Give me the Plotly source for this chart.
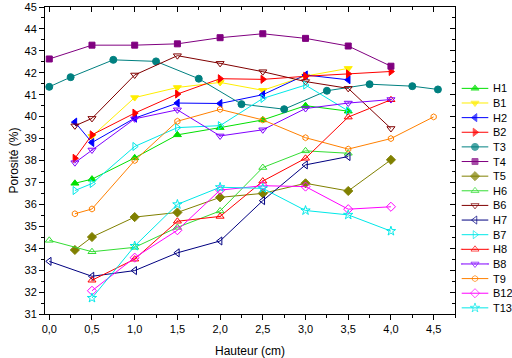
import plotly.graph_objects as go

# ---------------- data ----------------
names = ["H1", "B1", "H2", "B2", "T3", "T4", "T5", "H6", "B6", "H7", "B7", "H8", "B8", "T9", "B12", "T13"]

x_H1 = [0.3, 0.5, 1.0, 1.5, 2.0, 2.5, 3.0, 3.5]
y_H1 = [36.96, 37.15, 38.12, 39.17, 39.5, 39.85, 40.5, 40.25]
x_B1 = [0.5, 1.0, 1.5, 2.0, 2.5, 3.0, 3.5]
y_B1 = [39.1, 40.87, 41.33, 41.56, 41.2, 41.85, 42.2]
x_H2 = [0.3, 0.5, 1.0, 1.5, 2.0, 2.5, 3.0, 3.5]
y_H2 = [39.75, 38.82, 39.93, 40.62, 40.6, 41.0, 41.9, 41.68]
x_B2 = [0.3, 0.5, 1.0, 1.5, 2.0, 2.5, 3.0, 3.5, 4.0]
y_B2 = [38.1, 39.17, 40.16, 41.03, 41.73, 41.7, 41.84, 41.95, 42.06]
x_T3 = [0.0, 0.25, 0.75, 1.25, 1.75, 2.25, 2.75, 3.25, 3.75, 4.25, 4.55]
y_T3 = [41.36, 41.8, 42.59, 42.52, 41.73, 40.57, 40.34, 41.18, 41.48, 41.39, 41.24]
x_T4 = [0.0, 0.5, 1.0, 1.5, 2.0, 2.5, 3.0, 3.5, 4.0]
y_T4 = [42.63, 43.26, 43.26, 43.32, 43.6, 43.78, 43.57, 43.22, 42.3]
x_T5 = [0.3, 0.5, 1.0, 1.5, 2.0, 2.5, 3.0, 3.5, 4.0]
y_T5 = [33.92, 34.51, 35.42, 35.63, 36.32, 36.5, 36.96, 36.61, 38.03]
x_H6 = [0.0, 0.5, 1.0, 1.5, 2.0, 2.5, 3.0, 3.5]
y_H6 = [34.36, 33.84, 34.04, 34.95, 35.7, 37.68, 38.44, 38.33]
x_B6 = [0.3, 0.5, 1.0, 1.5, 2.0, 2.5, 3.0, 3.5, 4.0]
y_B6 = [39.58, 39.92, 41.9, 42.78, 42.43, 42.05, 41.6, 41.29, 39.46]
x_H7 = [0.0, 0.5, 1.0, 1.5, 2.0, 2.5, 3.0, 3.5]
y_H7 = [33.4, 32.72, 32.98, 33.79, 34.33, 36.17, 37.8, 38.18]
x_B7 = [0.3, 0.5, 1.0, 1.5, 2.0, 2.5, 3.0, 3.5]
y_B7 = [36.63, 36.95, 38.64, 39.5, 39.59, 40.83, 41.44, 40.26]
x_H8 = [0.5, 1.0, 1.5, 2.0, 2.5, 3.0, 3.5, 4.0]
y_H8 = [32.54, 33.5, 35.23, 35.45, 37.06, 38.1, 39.98, 40.77]
x_B8 = [0.3, 0.5, 1.0, 1.5, 2.0, 2.5, 3.0, 3.5, 4.0]
y_B8 = [37.9, 38.48, 39.9, 40.31, 39.12, 39.4, 40.37, 40.62, 40.78]
x_T9 = [0.3, 0.5, 1.0, 1.5, 2.0, 2.5, 3.0, 3.5, 4.0, 4.5]
y_T9 = [35.57, 35.79, 38.0, 39.79, 40.33, 39.85, 39.04, 38.52, 39.0, 39.99]
x_B12 = [0.5, 1.0, 1.5, 2.0, 2.5, 3.0, 3.5, 4.0]
y_B12 = [32.06, 33.57, 34.82, 36.65, 36.85, 36.81, 35.78, 35.89]
x_T13 = [0.5, 1.0, 1.5, 2.0, 2.5, 3.0, 3.5, 4.0]
y_T13 = [31.73, 34.1, 36.0, 36.78, 36.73, 35.72, 35.52, 34.78]

xs = [x_H1, x_B1, x_H2, x_B2, x_T3, x_T4, x_T5, x_H6, x_B6, x_H7, x_B7, x_H8, x_B8, x_T9, x_B12, x_T13]
ys = [y_H1, y_B1, y_H2, y_B2, y_T3, y_T4, y_T5, y_H6, y_B6, y_H7, y_B7, y_H8, y_B8, y_T9, y_B12, y_T13]

x_ticks = [0.0, 0.5, 1.0, 1.5, 2.0, 2.5, 3.0, 3.5, 4.0, 4.5]
y_ticks = list(range(31, 46))

# ---------------- styles ----------------
colors = ["#00E000", "#FFEE00", "#0000FF", "#FF0000", "#008080", "#800080", "#808000", "#33DD33",
          "#800000", "#000080", "#00E8E8", "#FF0000", "#8000FF", "#FF8000", "#FF00FF", "#00E8E8"]
symbols = ["triangle-up", "triangle-down", "triangle-left", "triangle-right", "circle", "square",
           "diamond", "triangle-up-open", "triangle-down-open", "triangle-left-open",
           "triangle-right-open", "triangle-up-open-dot", "triangle-down-open-dot", "hexagon-open",
           "diamond-open", "star-open"]
sizes = [7, 7, 7, 7, 7, 6, 7, 7, 7, 7, 7, 7, 7, 6, 7, 7]

FONT = "Liberation Sans, Arial, sans-serif"

fig = go.Figure()
for n, x, y, c, s, sz in zip(names, xs, ys, colors, symbols, sizes):
    fig.add_trace(go.Scatter(
        x=x, y=y, name=n, mode="lines+markers",
        line=dict(color=c, width=1),
        marker=dict(symbol=s, size=sz, color=c, line=dict(color=c, width=1)),
        showlegend=False,
    ))

# mirror axes (top / right, ticks inside)
fig.add_trace(go.Scatter(x=[None], y=[None], xaxis="x2", yaxis="y2", showlegend=False, hoverinfo="skip"))

# ---------------- hand-drawn legend on a hidden helper axis ----------------
for i, (n, c, s, sz) in enumerate(zip(names, colors, symbols, sizes)):
    fig.add_trace(go.Scatter(
        x=[6.7, 20, 33.3], y=[i, i, i], mode="lines+markers",
        xaxis="x3", yaxis="y3", showlegend=False, hoverinfo="skip",
        line=dict(color=c, width=1),
        marker=dict(symbol=s, size=[0, sz, 0], color=c, line=dict(color=c, width=1)),
    ))
    fig.add_annotation(x=35.5, y=i, xref="x3", yref="y3", text=n, showarrow=False,
                       xanchor="left", yanchor="middle", font=dict(family=FONT, size=11, color="black"))

dom = 410 / 467

fig.update_layout(
    width=512, height=358,
    margin=dict(l=45, r=0, t=7, b=44),
    paper_bgcolor="white", plot_bgcolor="white",
    separators=", ",
    font=dict(family=FONT, size=11, color="black"),
    xaxis=dict(
        domain=[0, dom], range=[-0.05, 4.75], tickvals=x_ticks, tickformat=".1f",
        showgrid=False, zeroline=False, showline=True, linecolor="black", linewidth=1,
        ticks="outside", ticklen=5, tickcolor="black",
        minor=dict(dtick=0.25, tick0=0, ticks="outside", ticklen=3, tickcolor="black"),
        title=dict(text="Hauteur (cm)", font=dict(size=12), standoff=12),
        tickfont=dict(size=11),
    ),
    yaxis=dict(
        range=[31, 45], tickvals=y_ticks,
        showgrid=False, zeroline=False, showline=True, linecolor="black", linewidth=1,
        ticks="outside", ticklen=5, tickcolor="black",
        minor=dict(dtick=0.5, tick0=31, ticks="outside", ticklen=3, tickcolor="black"),
        title=dict(text="Porosité (%)", font=dict(size=12), standoff=3),
        tickfont=dict(size=11),
    ),
    xaxis2=dict(
        overlaying="x", side="top", anchor="y", matches="x", range=[-0.05, 4.75],
        tickvals=x_ticks, showticklabels=False, showgrid=False, zeroline=False,
        showline=True, linecolor="black", linewidth=1, ticks="inside", ticklen=5, tickcolor="black",
        minor=dict(dtick=0.25, tick0=0, ticks="inside", ticklen=3, tickcolor="black"),
    ),
    yaxis2=dict(
        overlaying="y", side="right", anchor="x", matches="y", range=[31, 45],
        tickvals=y_ticks, showticklabels=False, showgrid=False, zeroline=False,
        showline=True, linecolor="black", linewidth=1, ticks="inside", ticklen=5, tickcolor="black",
        minor=dict(dtick=0.5, tick0=31, ticks="inside", ticklen=3, tickcolor="black"),
    ),
    xaxis3=dict(domain=[dom, 1], anchor="y3", range=[0, 57], visible=False, fixedrange=True),
    yaxis3=dict(domain=[0, 1], anchor="x3", range=[15.42, -5.56], visible=False, fixedrange=True),
)

fig.write_html("out.html")
